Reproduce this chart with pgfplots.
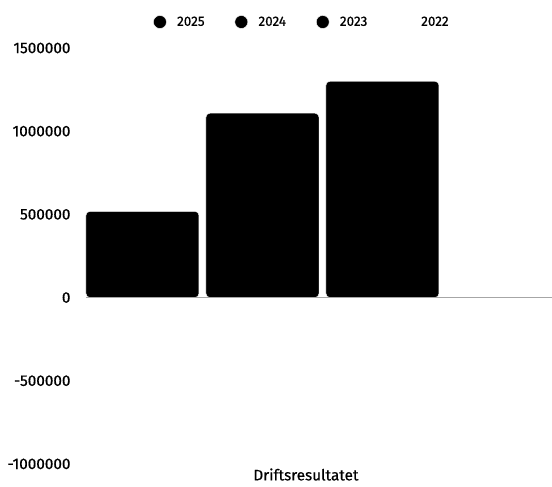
\documentclass[border=0pt]{standalone}
\usepackage{fontspec}
\setmainfont{Fira Sans}[FakeBold=0.6]
\usepackage{pgfplots}
\pgfplotsset{compat=1.18}
\begin{document}
\begin{tikzpicture}
\begin{axis}[
  scale only axis, width=466pt, height=416pt,
  xmin=-0.5, xmax=0.5, ymin=-1000000, ymax=1500000,
  ytick={-1000000,-500000,0,500000,1000000,1500000},
  scaled y ticks=false,
  yticklabel style={/pgf/number format/fixed,/pgf/number format/1000 sep={},
    /pgf/number format/assume math mode=true,
    font=\fontsize{15.3}{17}\selectfont, xshift=-12pt},
  xtick={0}, xticklabels={Driftsresultatet},
  xticklabel style={font=\fontsize{15.3}{17}\selectfont, yshift=-1pt, xshift=-13pt},
  axis line style={draw=none}, major tick length=0pt,
  ybar, bar width=0.2425,
  legend style={draw=none, at={(0.4635,1.0625)}, anchor=center,
    legend columns=-1, font=\fontsize{13.5}{15}\selectfont,
    /tikz/every even column/.append style={column sep=28pt}},
  legend image code/.code={\fill[#1] (0pt,0pt) circle (6.5pt); \path (15pt,0pt);},
]
\addplot[fill=black, draw=white, rounded corners=4pt, bar shift=-0.3788] coordinates {(0,518000)};
\addlegendentry{2025}
\addplot[fill=black, draw=white, rounded corners=4pt, bar shift=-0.1212] coordinates {(0,1108000)};
\addlegendentry{2024}
\addplot[fill=black, draw=white, rounded corners=4pt, bar shift=0.1363] coordinates {(0,1300000)};
\addlegendentry{2023}
\addplot[fill=white, draw=white, rounded corners=4pt, bar shift=0.3938] coordinates {(0,0)};
\addlegendentry{2022}
\draw[gray!70] (axis cs:-0.5,0) -- (axis cs:0.5,0);
\end{axis}
\path ([xshift=-86pt,yshift=48pt]current axis.north west) rectangle ([yshift=-23pt]current axis.south east);
\end{tikzpicture}
\end{document}
